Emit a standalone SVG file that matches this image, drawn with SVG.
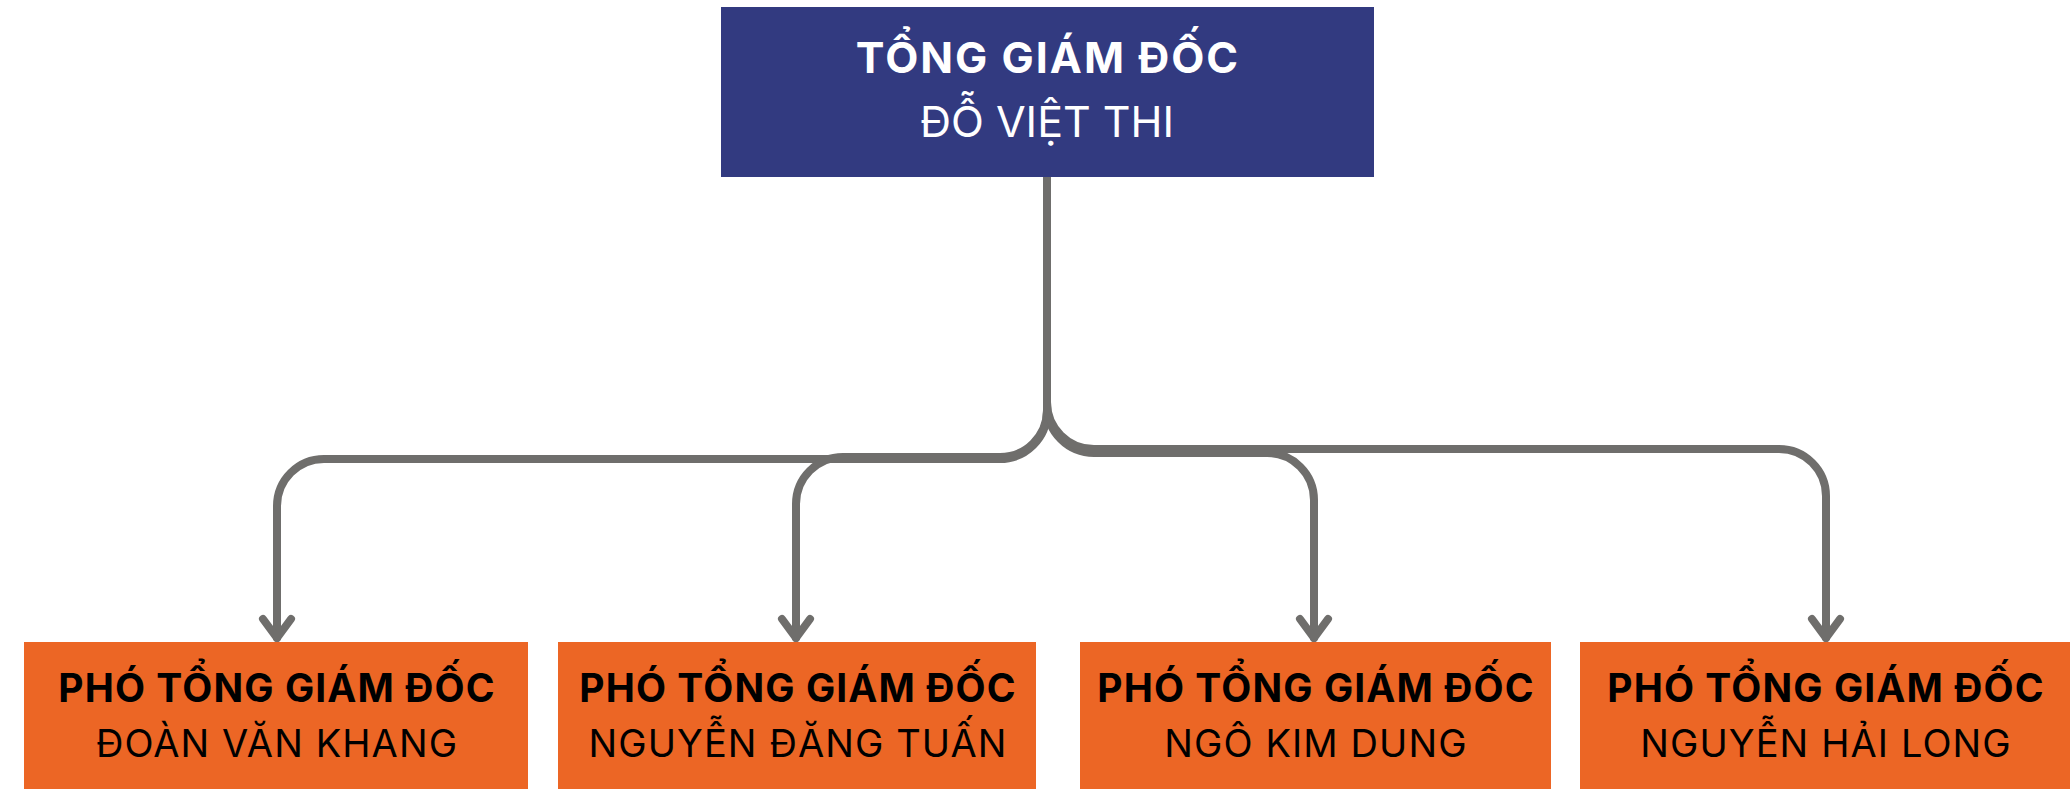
<svg xmlns="http://www.w3.org/2000/svg" width="2070" height="789" viewBox="0 0 2070 789">
<style>
.top{fill:#323a80}
.sub{fill:#ec6625}
.ttl{font-family:Inter,"Noto Sans",sans-serif;font-weight:700;text-anchor:middle}
.nm{font-family:Inter,"Noto Sans",sans-serif;font-weight:400;text-anchor:middle}
.con{fill:none;stroke:#6f6e6c;stroke-width:8;stroke-linecap:round;stroke-linejoin:round}
</style>
<defs>
<marker id="arr" markerUnits="userSpaceOnUse" viewBox="-30 -20 40 40" refX="0" refY="0" markerWidth="40" markerHeight="40" orient="auto">
<path d="M-19,-14 L0,0 L-19,14" fill="none" stroke="#6f6e6c" stroke-width="8" stroke-linecap="round" stroke-linejoin="round"/>
</marker>
</defs>
<rect width="2070" height="789" fill="#ffffff"/>
<g id="connectors">
<path class="con" marker-end="url(#arr)" d="M1047,176 V412 A47,47 0 0 1 1000,459 H324 A47,47 0 0 0 277,506 V638"/>
<path class="con" marker-end="url(#arr)" d="M1047,176 V410 A47,47 0 0 1 1000,457 H843 A47,47 0 0 0 796,504 V638"/>
<path class="con" marker-end="url(#arr)" d="M1047,176 V406 A47,47 0 0 0 1094,453 H1267 A47,47 0 0 1 1314,500 V638"/>
<path class="con" marker-end="url(#arr)" d="M1047,176 V402 A47,47 0 0 0 1094,449 H1779 A47,47 0 0 1 1826,496 V638"/>
</g>
<g id="ceo">
<rect class="top" x="721" y="7" width="653" height="170"/>
<text class="ttl" x="1048" y="73" font-size="43" letter-spacing="2" fill="#ffffff">TỔNG GIÁM ĐỐC</text>
<text class="nm" x="1047" y="137" font-size="43" fill="#ffffff" font-weight="300">ĐỖ VIỆT THI</text>
</g>
<g id="vp1">
<rect class="sub" x="24" y="642" width="504" height="147"/>
<text class="ttl" x="277" y="702" font-size="39" letter-spacing="1.1">PHÓ TỔNG GIÁM ĐỐC</text>
<text class="nm" x="277" y="757" font-size="38" letter-spacing="1.1">ĐOÀN VĂN KHANG</text>
</g>
<g id="vp2">
<rect class="sub" x="558" y="642" width="478" height="147"/>
<text class="ttl" x="798" y="702" font-size="39" letter-spacing="1.1">PHÓ TỔNG GIÁM ĐỐC</text>
<text class="nm" x="798" y="757" font-size="38" letter-spacing="1.1">NGUYỄN ĐĂNG TUẤN</text>
</g>
<g id="vp3">
<rect class="sub" x="1080" y="642" width="471" height="147"/>
<text class="ttl" x="1316" y="702" font-size="39" letter-spacing="1.1">PHÓ TỔNG GIÁM ĐỐC</text>
<text class="nm" x="1316" y="757" font-size="38" letter-spacing="1.1">NGÔ KIM DUNG</text>
</g>
<g id="vp4">
<rect class="sub" x="1580" y="642" width="490" height="147"/>
<text class="ttl" x="1826" y="702" font-size="39" letter-spacing="1.1">PHÓ TỔNG GIÁM ĐỐC</text>
<text class="nm" x="1826" y="757" font-size="38" letter-spacing="1.1">NGUYỄN HẢI LONG</text>
</g>
</svg>
